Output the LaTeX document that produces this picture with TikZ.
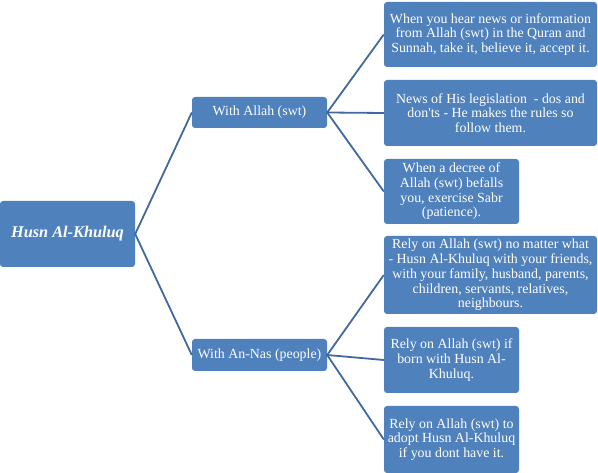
\documentclass[tikz,border=0pt]{standalone}
\usepackage{fontspec}
\setmainfont{Liberation Serif}
\definecolor{boxblue}{HTML}{4F81BD}
\definecolor{lineblue}{HTML}{41699F}
\begin{document}
\begin{tikzpicture}[x=1pt,y=-1pt,
  box/.style={fill=boxblue, draw=none, rounded corners=3pt, text=white, align=center,
    inner sep=0pt, font=\fontsize{13.9}{14.7}\selectfont},
  conn/.style={draw=lineblue, line width=1.8pt}]
\useasboundingbox (0,0) rectangle (598,473);
\node[box, minimum width=135pt, minimum height=66pt, font=\fontsize{16.3}{18}\selectfont\bfseries\itshape] (root) at (67.5,234) {Husn Al-Khuluq};
\node[box, minimum width=135pt, minimum height=31pt] (allah) at (259.5,112.5) {With Allah (swt)};
\node[box, minimum width=135pt, minimum height=32pt] (nas) at (259.5,355) {With An-Nas (people)};
\node[box, minimum width=213pt, minimum height=65pt] (l1) at (490.5,34.5) {When you hear news or information\\from Allah (swt) in the Quran and\\Sunnah, take it, believe it, accept it.};
\node[box, minimum width=213pt, minimum height=66pt] (l2) at (490.5,113) {News of His legislation \ - dos and\\don\textquotesingle ts - He makes the rules so\\follow them.};
\node[box, minimum width=135pt, minimum height=65pt] (l3) at (451.5,191.5) {When a decree of\\Allah (swt) befalls\\you, exercise Sabr\\(patience).};
\node[box, minimum width=213pt, minimum height=78pt] (l4) at (490.5,275) {Rely on Allah (swt) no matter what\\- Husn Al-Khuluq with your friends,\\with your family, husband, parents,\\children, servants, relatives,\\neighbours.};
\node[box, minimum width=135pt, minimum height=66pt] (l5) at (451.5,360) {Rely on Allah (swt) if\\born with Husn Al-\\Khuluq.};
\node[box, minimum width=135pt, minimum height=67pt] (l6) at (451.5,439.5) {Rely on Allah (swt) to\\adopt Husn Al-Khuluq\\if you dont have it.};
\draw[conn] (allah.west) -- (root.east) -- (nas.west);
\draw[conn] (l1.west) -- (allah.east) -- (l3.west);
\draw[conn] (allah.east) -- (l2.west);
\draw[conn] (l4.west) -- (nas.east) -- (l6.west);
\draw[conn] (nas.east) -- (l5.west);
\end{tikzpicture}
\end{document}
